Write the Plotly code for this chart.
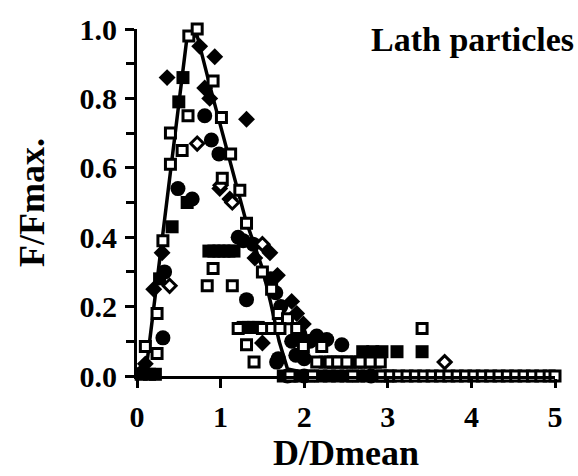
import plotly.graph_objects as go

# Fitted curve
curve_x = [0.10, 0.20, 0.30, 0.40, 0.50, 0.60, 0.72, 0.80, 0.90, 1.00, 1.10, 1.20, 1.30, 1.40, 1.50, 1.60, 1.70, 1.80, 2.00, 2.50, 3.00, 3.50, 4.00, 4.50, 5.00]
curve_y = [0.00, 0.20, 0.40, 0.60, 0.80, 0.98, 0.98, 0.90, 0.81, 0.72, 0.63, 0.54, 0.45, 0.38, 0.31, 0.21, 0.10, 0.02, 0.01, 0.01, 0.01, 0.00, 0.00, 0.00, 0.00]

# Open squares
os_x = [0.10, 0.24, 0.24, 0.31, 0.40, 0.40, 0.54, 0.61, 0.62, 0.72, 0.91, 1.01, 1.12, 1.02, 1.23,
        0.84, 0.91, 1.14, 1.31, 1.50, 1.61, 1.69, 1.80, 1.91, 1.21, 1.50, 1.61, 1.71, 1.31, 1.40,
        1.99, 2.21, 2.15, 3.41,
        2.31, 2.40, 2.51, 2.67, 2.79, 2.91,
        1.83, 2.10, 2.58, 2.93, 3.03, 3.13, 3.23, 3.33, 3.43, 3.53, 3.63, 3.73, 3.83, 3.93,
        4.03, 4.13, 4.23, 4.33, 4.43, 4.53, 4.63, 4.73, 4.83, 4.93, 5.00]
os_y = [0.085, 0.065, 0.18, 0.39, 0.61, 0.70, 0.65, 0.75, 0.98, 1.00, 0.85, 0.745, 0.64, 0.57, 0.535,
        0.26, 0.31, 0.26, 0.44, 0.30, 0.25, 0.18, 0.165, 0.137, 0.137, 0.137, 0.137, 0.137, 0.09, 0.04,
        0.085, 0.085, 0.04, 0.137,
        0.04, 0.04, 0.04, 0.04, 0.04, 0.04,
        0.0, 0.0, 0.0, 0.0, 0.0, 0.0, 0.0, 0.0, 0.0, 0.0, 0.0, 0.0, 0.0, 0.0,
        0.0, 0.0, 0.0, 0.0, 0.0, 0.0, 0.0, 0.0, 0.0, 0.0, 0.0]

# Filled squares
fs_x = [0.05, 0.15, 0.22, 0.27, 0.42, 0.50, 0.55, 0.60, 0.86, 0.92, 0.98, 1.04, 1.10, 1.16,
        1.27, 1.33, 1.39, 1.45, 2.70, 2.82, 2.93, 3.11, 3.41,
        2.25, 2.35, 2.45, 2.55, 2.62, 2.72, 2.85,
        1.75, 1.85, 1.95, 2.05, 2.20, 2.30, 2.40, 2.50, 2.65, 2.75, 2.85, 3.00]
fs_y = [0.005, 0.005, 0.005, 0.28, 0.43, 0.79, 0.86, 0.50, 0.36, 0.36, 0.36, 0.36, 0.36, 0.36,
        0.14, 0.14, 0.14, 0.14, 0.07, 0.07, 0.07, 0.07, 0.07,
        0.04, 0.04, 0.04, 0.04, 0.04, 0.04, 0.04,
        0.0, 0.0, 0.0, 0.0, 0.0, 0.0, 0.0, 0.0, 0.0, 0.0, 0.0, 0.0]

# Filled circles
fc_x = [0.07, 0.31, 0.33, 0.49, 0.66, 0.81, 0.89, 0.98, 1.21, 1.27, 1.39, 1.31, 1.60, 1.66, 1.72,
        1.67, 1.69, 1.85, 1.95, 2.07, 2.15, 2.27, 2.45, 1.90, 2.00, 1.80, 2.00, 2.80]
fc_y = [0.01, 0.11, 0.30, 0.54, 0.51, 0.75, 0.68, 0.64, 0.40, 0.39, 0.38, 0.22, 0.28, 0.24, 0.20,
        0.04, 0.05, 0.10, 0.12, 0.10, 0.115, 0.105, 0.09, 0.06, 0.05, 0.0, 0.0, 0.0]

# Filled diamonds
fd_x = [0.10, 0.20, 0.30, 0.36, 0.75, 0.81, 0.87, 0.93, 1.31, 1.11, 0.99, 1.41, 1.59, 1.50,
        1.68, 1.85, 1.91, 1.99]
fd_y = [0.035, 0.25, 0.355, 0.86, 0.95, 0.83, 0.80, 0.92, 0.74, 0.51, 0.54, 0.34, 0.355, 0.095,
        0.29, 0.215, 0.18, 0.15]

# Open diamonds
od_x = [0.39, 0.72, 1.00, 1.14, 1.50, 3.68]
od_y = [0.26, 0.67, 0.55, 0.50, 0.38, 0.04]

fig = go.Figure()
fig.add_trace(go.Scatter(x=curve_x, y=curve_y, mode="lines",
                         line=dict(color="black", width=3.5), cliponaxis=False))
fig.add_trace(go.Scatter(x=fc_x, y=fc_y, mode="markers", cliponaxis=False,
                         marker=dict(symbol="circle", size=15, color="black", line=dict(width=0))))
fig.add_trace(go.Scatter(x=fd_x, y=fd_y, mode="markers", cliponaxis=False,
                         marker=dict(symbol="diamond", size=13, color="black", line=dict(width=0))))
fig.add_trace(go.Scatter(x=fs_x, y=fs_y, mode="markers", cliponaxis=False,
                         marker=dict(symbol="square", size=13, color="black", line=dict(width=0))))
fig.add_trace(go.Scatter(x=od_x, y=od_y, mode="markers", cliponaxis=False,
                         marker=dict(symbol="diamond", size=10, color="white",
                                     line=dict(color="black", width=3))))
fig.add_trace(go.Scatter(x=os_x, y=os_y, mode="markers", cliponaxis=False,
                         marker=dict(symbol="square", size=10, color="white",
                                     line=dict(color="black", width=3))))

font_b = dict(family="Liberation Serif", color="black", weight="bold")

fig.update_layout(
    width=578, height=476,
    margin=dict(l=137, r=23, t=19, b=99),
    paper_bgcolor="white", plot_bgcolor="white",
    showlegend=False,
    font=dict(family="Liberation Serif", color="black", size=30, weight="bold"),
    xaxis=dict(range=[0, 5], dtick=1, tick0=0, showgrid=False, zeroline=False,
               showline=True, linecolor="black", linewidth=3,
               ticks="outside", ticklen=9, tickwidth=3, tickcolor="black",
               tickfont=dict(size=30, **font_b), ticklabelstandoff=3,
               title=dict(text="D/Dmean", font=dict(size=36, **font_b), standoff=6)),
    yaxis=dict(range=[0, 1], dtick=0.2, tick0=0, tickformat=".1f", showgrid=False, zeroline=False,
               showline=True, linecolor="black", linewidth=3,
               ticks="outside", ticklen=9, tickwidth=3, tickcolor="black",
               tickfont=dict(size=30, **font_b), ticklabelstandoff=2,
               minor=dict(dtick=0.1, ticks="outside", ticklen=8, tickwidth=3, tickcolor="black"),
               title=dict(text="F/Fmax.", font=dict(size=36, **font_b), standoff=24)),
    annotations=[dict(text="Lath particles", xref="paper", yref="paper", x=1.05, y=0.97,
                      xanchor="right", yanchor="middle", showarrow=False,
                      font=dict(size=34, **font_b))],
)

fig.write_html("out.html")
